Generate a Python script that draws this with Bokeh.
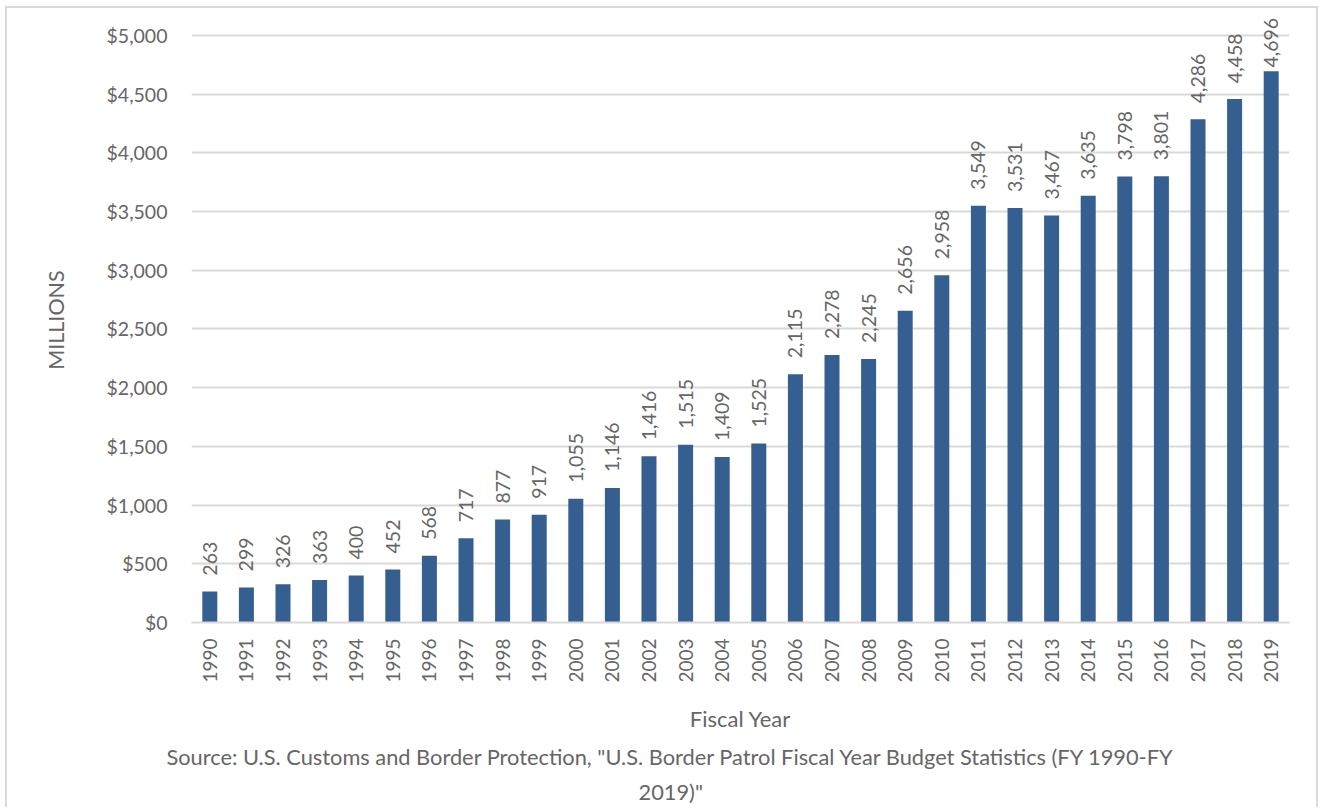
from bokeh.plotting import figure
from bokeh.models import ColumnDataSource, Title, NumeralTickFormatter, FixedTicker, Range1d, FactorRange
from bokeh.core.properties import value
from bokeh.embed import file_html
from bokeh.resources import INLINE
import math

# ---- data ----
years = ["1990", "1991", "1992", "1993", "1994", "1995", "1996", "1997", "1998", "1999",
         "2000", "2001", "2002", "2003", "2004", "2005", "2006", "2007", "2008", "2009",
         "2010", "2011", "2012", "2013", "2014", "2015", "2016", "2017", "2018", "2019"]
budget = [263, 299, 326, 363, 400, 452, 568, 717, 877, 917,
          1055, 1146, 1416, 1515, 1409, 1525, 2115, 2278, 2245, 2656,
          2958, 3549, 3531, 3467, 3635, 3798, 3801, 4286, 4458, 4696]
y_ticks = [0, 500, 1000, 1500, 2000, 2500, 3000, 3500, 4000, 4500, 5000]

y_title = "MILLIONS"
x_title = "Fiscal Year"
source_line1 = 'Source: U.S. Customs and Border Protection, "U.S. Border Patrol Fiscal Year Budget Statistics (FY 1990-FY'
source_line2 = '2019)"'

FONT = "Lato"
TXT = "#666666"
GRID = "#d9d9d9"
BAR = "#365f91"

labels = [f"{v:,}" for v in budget]
label_y = [min(v + 136, 4727) for v in budget]

src = ColumnDataSource(dict(year=years, budget=budget, label=labels, ly=label_y))

p = figure(width=1313, height=801, x_range=FactorRange(*years, range_padding=0),
           y_range=Range1d(0, 5153), output_backend="svg", toolbar_location=None,
           min_border_left=184, min_border_right=31, min_border_top=9, min_border_bottom=187)
p.styles = {"border-top": "2px solid #d9d9d9", "border-left": "2px solid #d9d9d9",
            "border-right": "2px solid #d9d9d9", "margin-left": "5px", "margin-top": "6px"}
p.outline_line_color = None
p.background_fill_color = "white"
p.border_fill_color = "white"

p.vbar(x="year", top="budget", width=0.41, source=src, fill_color=BAR, line_color=None)
p.text(x="year", y="ly", text="label", source=src, angle=math.pi / 2,
       text_align="left", text_baseline="middle", text_font=value(FONT),
       text_font_size="19.5px", text_color=TXT)

# grid
p.xgrid.grid_line_color = None
p.ygrid.grid_line_color = GRID
p.ygrid.grid_line_width = 2
p.yaxis.ticker = FixedTicker(ticks=y_ticks)

# y axis
p.yaxis.formatter = NumeralTickFormatter(format="$0,0")
p.yaxis.axis_line_color = None
p.yaxis.major_tick_line_color = None
p.yaxis.minor_tick_line_color = None
p.yaxis.major_tick_out = 0
p.yaxis.major_tick_in = 0
p.yaxis.major_label_standoff = 24
p.yaxis.major_label_text_font = FONT
p.yaxis.major_label_text_font_size = "19.5px"
p.yaxis.major_label_text_color = TXT
p.yaxis.axis_label = y_title
p.yaxis.axis_label_text_font = FONT
p.yaxis.axis_label_text_font_size = "21.5px"
p.yaxis.axis_label_text_font_style = "normal"
p.yaxis.axis_label_text_color = TXT
p.yaxis.axis_label_standoff = 35

# x axis
p.xaxis.axis_line_color = GRID
p.xaxis.axis_line_width = 2
p.xaxis.major_tick_line_color = None
p.xaxis.major_tick_out = 0
p.xaxis.major_tick_in = 0
p.xaxis.major_label_orientation = math.pi / 2
p.xaxis.major_label_standoff = 16
p.xaxis.major_label_text_font = FONT
p.xaxis.major_label_text_font_size = "19px"
p.xaxis.major_label_text_color = TXT
p.xaxis.axis_label = x_title
p.xaxis.axis_label_text_font = FONT
p.xaxis.axis_label_text_font_size = "22px"
p.xaxis.axis_label_text_font_style = "normal"
p.xaxis.axis_label_text_color = TXT
p.xaxis.axis_label_standoff = 19

for t, off, so in ((source_line1, -25, 12), (source_line2, 447, 0)):
    p.add_layout(Title(text=t, align="left", offset=off, text_font=FONT,
                       text_font_size="21.8px", text_font_style="normal",
                       text_color=TXT, standoff=so), "below")

open("out.html", "w").write(file_html(p, INLINE))
